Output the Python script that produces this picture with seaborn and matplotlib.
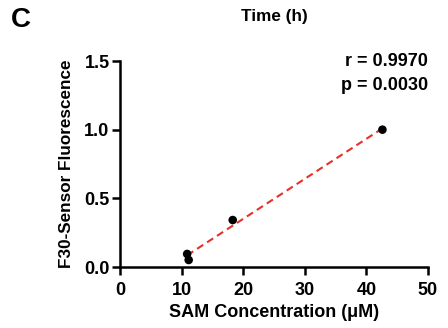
import numpy as np
import pandas as pd
import matplotlib
matplotlib.use("Agg")
import matplotlib.pyplot as plt
import seaborn as sns

sam_conc = [42.6, 18.3, 10.9, 11.15]
fluorescence = [1.0, 0.342, 0.095, 0.051]
x_ticks = [0, 10, 20, 30, 40, 50]
y_ticks = [0.0, 0.5, 1.0, 1.5]
y_tick_labels = ["0.0", "0.5", "1.0", "1.5"]
r_text = "r = 0.9970"
p_text = "p = 0.0030"

df = pd.DataFrame({"SAM": sam_conc, "F30": fluorescence})

sns.set_style("ticks")
plt.rcParams['font.family'] = ['Liberation Sans', 'DejaVu Sans']
plt.rcParams['text.color'] = 'black'
plt.rcParams['axes.labelcolor'] = 'black'
plt.rcParams['xtick.color'] = 'black'
plt.rcParams['ytick.color'] = 'black'

fig = plt.figure(figsize=(4.48, 3.28), dpi=100)
ax = fig.add_axes([120/448, (328-267)/328, (428-120)/448, (267-61)/328])

sns.regplot(data=df, x="SAM", y="F30", ax=ax, ci=None, truncate=True,
            scatter_kws=dict(color="black", s=38, edgecolor="none", alpha=1, zorder=3),
            line_kws=dict(color="#e8302a", linestyle=(0, (3.5, 2.2)), linewidth=1.5, zorder=2))

ax.set_xlim(0, 50)
ax.set_ylim(0, 1.5)
ax.set_xticks(x_ticks)
ax.set_yticks(y_ticks)
ax.set_yticklabels(y_tick_labels)
for s in ["top", "right"]:
    ax.spines[s].set_visible(False)
for s in ["left", "bottom"]:
    ax.spines[s].set_linewidth(1.8)
    ax.spines[s].set_color("black")
ax.tick_params(width=1.8, length=5.5, labelsize=13, colors="black", labelcolor="black", pad=2)
ax.tick_params(axis="x", pad=5)
for lab in ax.get_xticklabels() + ax.get_yticklabels():
    lab.set_fontweight("bold")
ax.set_xlabel("SAM Concentration (μM)", fontsize=13, fontweight="bold", labelpad=4, color="black")
ax.set_ylabel("F30-Sensor Fluorescence", fontsize=12.3, fontweight="bold", labelpad=7, color="black")

fig.text(274/448, 1 - 16/328, "Time (h)", fontsize=12.3, fontweight="bold", va="center", ha="center", color="black")

ax.text(1.0, 1.0, r_text, transform=ax.transAxes, ha="right", va="center",
        fontsize=13, fontweight="bold", color="black")
ax.text(1.0, 0.88, p_text, transform=ax.transAxes, ha="right", va="center",
        fontsize=13, fontweight="bold", color="black")

fig.text(11/448, 1 - 20/328, "C", fontsize=20, fontweight="bold", va="center", ha="left", color="black")

fig.savefig("out.png", dpi=100)
